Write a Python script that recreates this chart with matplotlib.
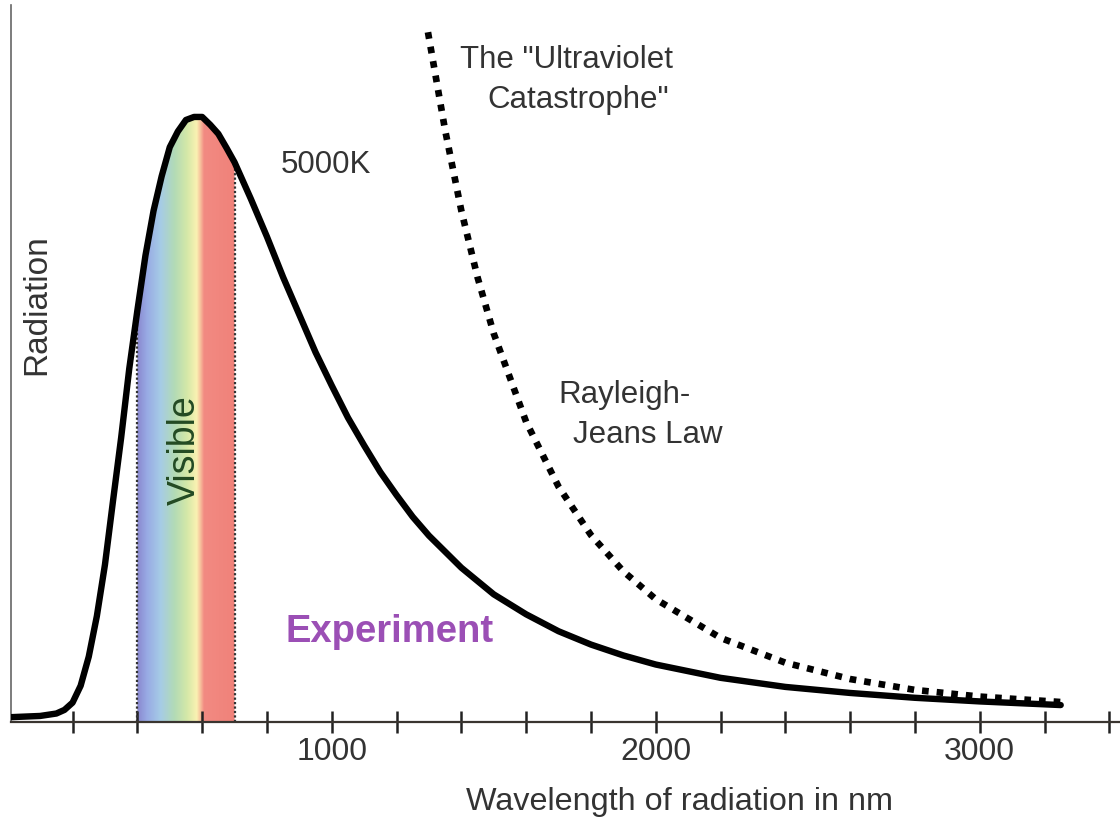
import numpy as np
import matplotlib
matplotlib.use("Agg")
import matplotlib.pyplot as plt
from matplotlib.colors import LinearSegmentedColormap
from matplotlib.patches import Polygon
from matplotlib.ticker import FixedLocator, FuncFormatter

plt.rcParams['font.family'] = ['Liberation Sans', 'DejaVu Sans']

# ---- data ----
wavelength_nm = [10, 100, 150, 175, 200, 225, 250, 275, 300, 325, 350, 375, 400, 425, 450,
                 475, 500, 525, 550, 575, 600, 625, 650, 675, 700, 750, 800, 850, 900,
                 950, 1000, 1050, 1100, 1150, 1200, 1250, 1300, 1400, 1500, 1600, 1700,
                 1800, 1900, 2000, 2200, 2400, 2600, 2800, 3000, 3250]
radiation = [0.8, 1.0, 1.4, 2.0, 3.2, 6.0, 10.8, 17.5, 26.0, 36.6, 47.0, 58.4, 68.0, 77.1, 84.5,
             90.2, 95.0, 97.6, 99.5, 100.0, 100.0, 98.7, 97.2, 94.9, 92.5, 86.5, 80.2, 73.5, 67.3,
             61.1, 55.6, 50.3, 45.7, 41.3, 37.5, 33.9, 30.8, 25.5, 21.1, 17.8, 15.0,
             12.8, 11.0, 9.5, 7.3, 5.8, 4.8, 4.0, 3.4, 2.8]

rj_wavelength_nm = [1297, 1350, 1400, 1450, 1500, 1600, 1700, 1800, 1900,
                    2000, 2200, 2400, 2600, 2800, 3000, 3250]
rj_radiation = [114.0, 97.8, 84.5, 73.5, 64.2, 49.6, 38.9, 30.9, 24.9,
                20.3, 13.9, 9.8, 7.1, 5.3, 4.2, 3.3]

visible_range = [400, 700]
tick_values = [200, 400, 600, 800, 1000, 1200, 1400, 1600, 1800, 2000, 2200,
               2400, 2600, 2800, 3000, 3200, 3400]
labelled_ticks = [1000, 2000, 3000]

# ---- figure ----
fig = plt.figure(figsize=(11.2, 8.19), dpi=100)
ax = fig.add_axes([11 / 1120, 97 / 819, 1109 / 1120, 717 / 819])
ax.set_xlim(10, 3433)
ax.set_ylim(0, 118.5)

# visible band gradient, clipped under the curve
wl = np.array(wavelength_nm, dtype=float)
rad = np.array(radiation, dtype=float)
vmask = (wl >= visible_range[0]) & (wl <= visible_range[1])
poly_pts = [(visible_range[0], 0)] + list(zip(wl[vmask], rad[vmask])) + [(visible_range[1], 0)]
clip_poly = Polygon(poly_pts, closed=True, facecolor='none', edgecolor='none')
ax.add_patch(clip_poly)

stops = [(0.00, '#8a88cf'), (0.10, '#98aae4'), (0.24, '#a6cce6'),
         (0.38, '#b2dab6'), (0.51, '#d4e8a8'), (0.61, '#faf2b2'),
         (0.655, '#f6b898'), (0.685, '#f28a82'), (1.00, '#f0827a')]
cmap = LinearSegmentedColormap.from_list('vis', stops)
grad = np.linspace(0, 1, 400).reshape(1, -1)
im = ax.imshow(grad, cmap=cmap, aspect='auto', origin='lower',
               extent=[visible_range[0], visible_range[1], 0, 118.5], zorder=1)
im.set_clip_path(clip_poly)

# dotted boundaries of visible band
for v in visible_range:
    top = np.interp(v, wl, rad)
    ax.plot([v, v], [0, top], linestyle=(0, (1, 1)), color='#333333', lw=1.6, zorder=2)

# curves
ax.plot(wl, rad, color='black', lw=4.6, solid_capstyle='round', solid_joinstyle='round', zorder=4)
ax.plot(rj_wavelength_nm, rj_radiation, color='black', lw=4.8,
        linestyle=(0, (1, 1.2)), dash_capstyle='butt', zorder=3)

# axes styling
for s in ['top', 'right']:
    ax.spines[s].set_visible(False)
ax.spines['left'].set_color('#666666')
ax.spines['left'].set_linewidth(1.2)
ax.spines['bottom'].set_color('#3a3530')
ax.spines['bottom'].set_linewidth(1.6)
ax.set_yticks([])
ax.xaxis.set_major_locator(FixedLocator(tick_values))
ax.xaxis.set_major_formatter(FuncFormatter(lambda v, p: f"{int(v)}" if int(v) in labelled_ticks else ""))
ax.tick_params(axis='x', direction='inout', length=16, width=1.8, color='#222222',
               labelsize=23, labelcolor='#333333', pad=3)

ax.set_xlabel('Wavelength of radiation in nm', fontsize=23.3, color='#333333')
ax.xaxis.label.set_va('center')
ax.xaxis.set_label_coords(0.603, -0.111)
ax.set_ylabel('Radiation', fontsize=24, color='#333333')
ax.yaxis.label.set_va('center')
ax.yaxis.set_label_coords(0.0234, 0.5816)

# annotations
ax.text(982, 92.1, '5000K', fontsize=22.5, color='#333333', ha='center', va='center', zorder=5)
ax.text(1396, 109.4, 'The "Ultraviolet', fontsize=22.5, color='#333333', ha='left', va='center', zorder=5)
ax.text(1479, 102.8, 'Catastrophe"', fontsize=22.5, color='#333333', ha='left', va='center', zorder=5)
ax.text(1698, 54.0, 'Rayleigh-', fontsize=22.5, color='#333333', ha='left', va='center', zorder=5)
ax.text(1745, 47.4, 'Jeans Law', fontsize=22.5, color='#333333', ha='left', va='center', zorder=5)
ax.text(856, 14.9, 'Experiment', fontsize=27.5, color='#9b4fb5', fontweight='bold',
        ha='left', va='center', zorder=5)
ax.text(547, 45.0, 'Visible', fontsize=27, color='#234a23', rotation=90,
        ha='center', va='center', zorder=5)

fig.savefig('out.png', dpi=100, facecolor='white')
